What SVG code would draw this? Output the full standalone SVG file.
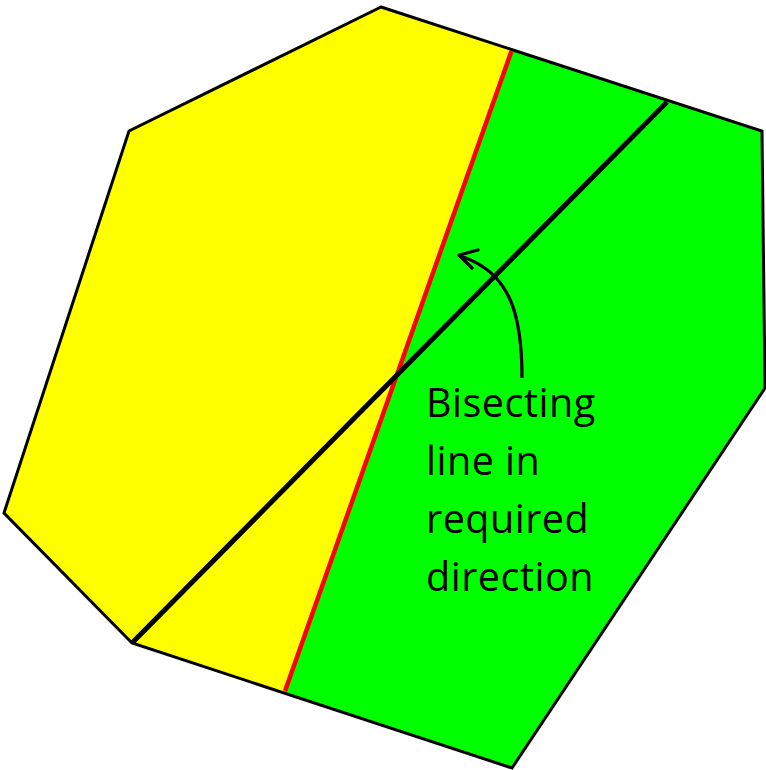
<svg xmlns="http://www.w3.org/2000/svg" width="766" height="770" viewBox="0 0 766 770">
<style>
.lbl{font-family:"Open Sans","Liberation Sans",sans-serif;font-size:39.5px;letter-spacing:0.5px;fill:#000}
</style>
<defs>
<clipPath id="poly"><polygon points="381,7 762,131 765,388 512,768 132,643 4,513 129,131"/></clipPath>
</defs>
<rect width="766" height="770" fill="#fff"/>
<g id="shape">
<g clip-path="url(#poly)">
<polygon points="0,0 529.5,0 257,770 0,770" fill="#ffff00"/>
<polygon points="529.5,0 766,0 766,770 257,770" fill="#00ff00"/>
</g>
<polygon points="381,7 762,131 765,388 512,768 132,643 4,513 129,131" fill="none" stroke="#000" stroke-width="3" stroke-linejoin="miter"/>
</g>
<g id="connectors">
<line id="red-line" x1="285" y1="691" x2="511.5" y2="51" stroke="#ff0000" stroke-width="4.5"/>
<line id="black-line" x1="132" y1="643" x2="667" y2="102" stroke="#000" stroke-width="5"/>
<path id="arrow" d="M522 378 C522 318 512 272 460 256" fill="none" stroke="#000" stroke-width="3.2"/>
<polyline points="478,250 459,255 472,268" fill="none" stroke="#000" stroke-width="3.2" stroke-linecap="round" stroke-linejoin="round"/>
</g>
<g id="label">
<text class="lbl" x="426" y="417">Bisecting</text>
<text class="lbl" x="426" y="475">line in</text>
<text class="lbl" x="426" y="533">required</text>
<text class="lbl" x="426" y="591">direction</text>
</g>
</svg>
